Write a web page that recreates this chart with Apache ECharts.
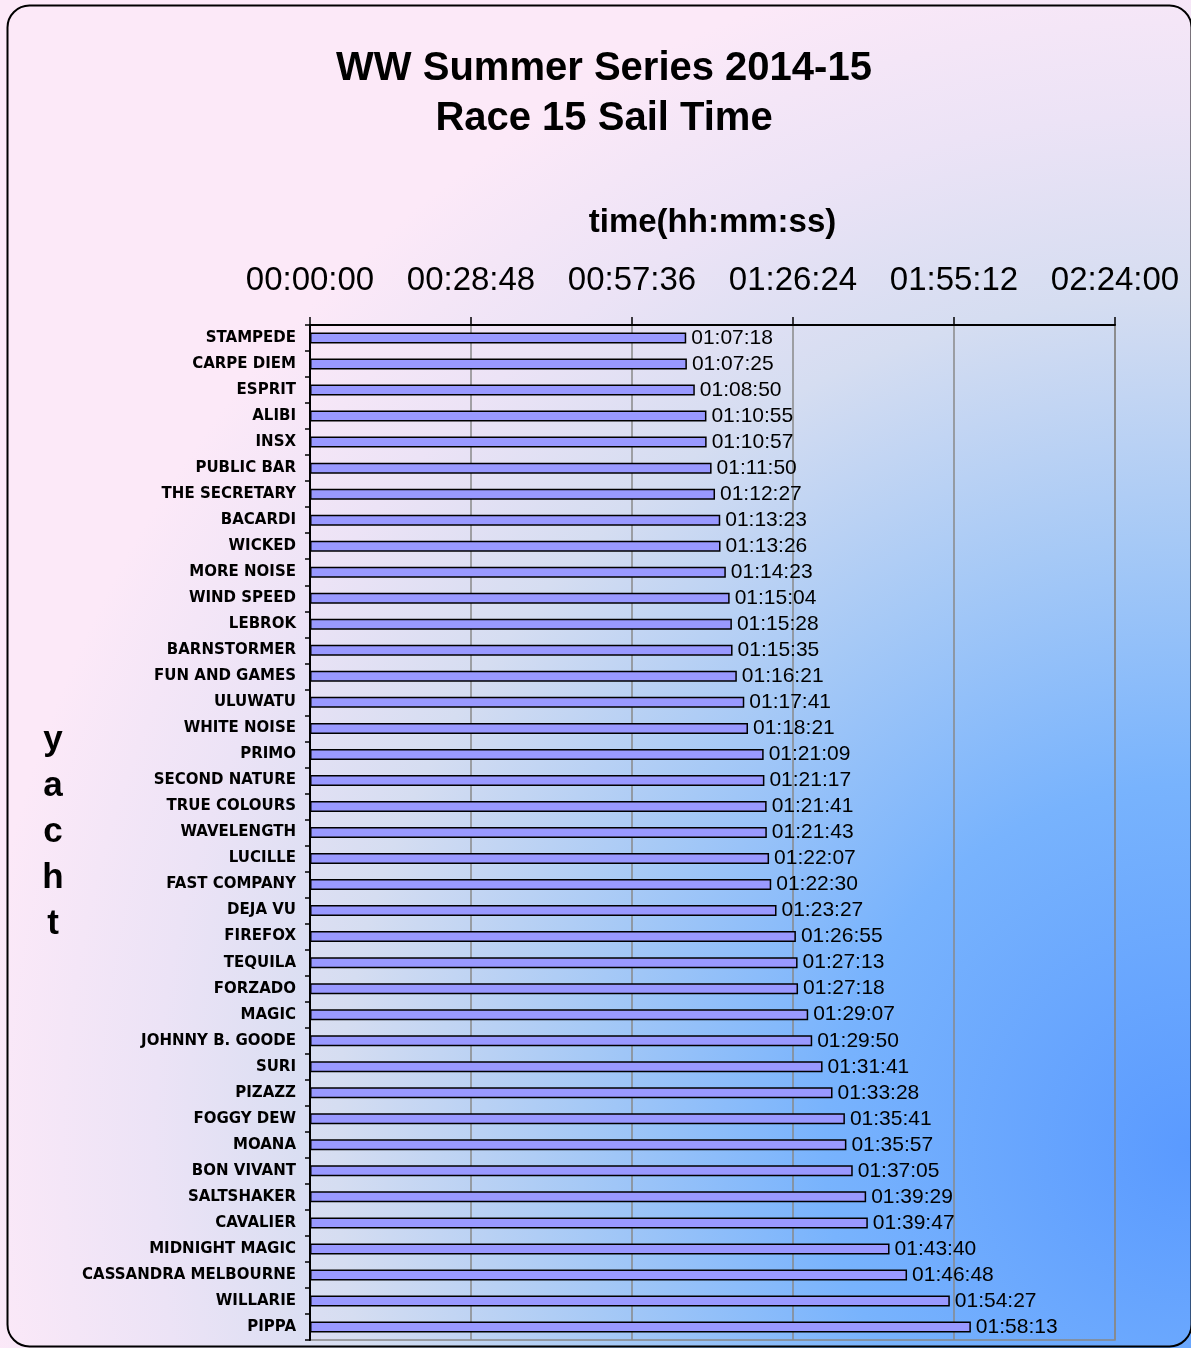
<!DOCTYPE html>
<html>
<head>
<meta charset="utf-8">
<title>Race 15 Sail Time</title>
<script src="https://cdn.jsdelivr.net/npm/echarts@6/dist/echarts.min.js"></script>
<style>
  html, body { margin: 0; padding: 0; background: #fff; }
  #chart { width: 1191px; height: 1348px; }
</style>
</head>
<body>
<div id="chart"></div>
<script>
var yachts = ['STAMPEDE', 'CARPE DIEM', 'ESPRIT', 'ALIBI', 'INSX', 'PUBLIC BAR', 'THE SECRETARY', 'BACARDI', 'WICKED', 'MORE NOISE',
  'WIND SPEED', 'LEBROK', 'BARNSTORMER', 'FUN AND GAMES', 'ULUWATU', 'WHITE NOISE', 'PRIMO', 'SECOND NATURE', 'TRUE COLOURS', 'WAVELENGTH',
  'LUCILLE', 'FAST COMPANY', 'DEJA VU', 'FIREFOX', 'TEQUILA', 'FORZADO', 'MAGIC', 'JOHNNY B. GOODE', 'SURI', 'PIZAZZ',
  'FOGGY DEW', 'MOANA', 'BON VIVANT', 'SALTSHAKER', 'CAVALIER', 'MIDNIGHT MAGIC', 'CASSANDRA MELBOURNE', 'WILLARIE', 'PIPPA'];

var sailTimes = ['01:07:18', '01:07:25', '01:08:50', '01:10:55', '01:10:57', '01:11:50', '01:12:27', '01:13:23', '01:13:26', '01:14:23',
  '01:15:04', '01:15:28', '01:15:35', '01:16:21', '01:17:41', '01:18:21', '01:21:09', '01:21:17', '01:21:41', '01:21:43',
  '01:22:07', '01:22:30', '01:23:27', '01:26:55', '01:27:13', '01:27:18', '01:29:07', '01:29:50', '01:31:41', '01:33:28',
  '01:35:41', '01:35:57', '01:37:05', '01:39:29', '01:39:47', '01:43:40', '01:46:48', '01:54:27', '01:58:13'];

// axis runs 0 .. 02:24:00 in steps of 00:28:48
var axisMax = '02:24:00';
var axisStep = '00:28:48';

function toSeconds(t) {
  var p = t.split(':');
  return (+p[0]) * 3600 + (+p[1]) * 60 + (+p[2]);
}

function pad(n) {
  return n < 10 ? '0' + n : '' + n;
}

function toClock(s) {
  s = Math.round(s);
  var h = Math.floor(s / 3600);
  var m = Math.floor((s % 3600) / 60);
  return pad(h) + ':' + pad(m) + ':' + pad(s % 60);
}

var values = sailTimes.map(toSeconds);

var chart = echarts.init(document.getElementById('chart'));

var option = {
  animation: false,
  backgroundColor: {
    type: 'radial', x: 1191, y: 1150, r: 1220, global: true,
    colorStops: [
      { offset: 0, color: '#5a9aff' },
      { offset: 0.3, color: '#78b3fd' },
      { offset: 0.5, color: '#a6c9f6' },
      { offset: 0.7, color: '#d5ddf1' },
      { offset: 0.85, color: '#ece3f6' },
      { offset: 1, color: '#fce9f8' }
    ]
  },
  graphic: [{
    type: 'rect',
    shape: { x: 7.5, y: 5.5, width: 1184, height: 1341, r: 22 },
    style: { fill: 'none', stroke: '#000', lineWidth: 2 },
    silent: true
  }],
  title: {
    text: 'WW Summer Series 2014-15\nRace 15 Sail Time',
    left: 599,
    top: 39,
    textAlign: 'center',
    textStyle: {
      fontFamily: 'Liberation Sans',
      fontWeight: 'bold',
      fontSize: 40,
      lineHeight: 50,
      color: '#000'
    }
  },
  grid: {
    left: 310, right: 76, top: 325, bottom: 8,
    show: true,
    borderColor: '#888',
    borderWidth: 1.5,
    backgroundColor: 'transparent'
  },
  xAxis: {
    type: 'value',
    position: 'top',
    min: 0,
    max: toSeconds(axisMax),
    interval: toSeconds(axisStep),
    name: 'time(hh:mm:ss)',
    nameLocation: 'middle',
    nameGap: 86,
    nameTextStyle: { fontFamily: 'Liberation Sans', fontWeight: 'bold', fontSize: 33, color: '#000' },
    axisLine: { show: true, lineStyle: { color: '#000', width: 2 } },
    axisTick: { show: true, length: 8, lineStyle: { color: '#000', width: 1.5 } },
    axisLabel: {
      margin: 28,
      fontFamily: 'Liberation Sans',
      fontSize: 33,
      color: '#000',
      formatter: function(v) { return toClock(v); }
    },
    splitLine: { show: true, lineStyle: { color: '#888', width: 1.5 } }
  },
  yAxis: {
    type: 'category',
    inverse: true,
    data: yachts,
    name: 'y\na\nc\nh\nt',
    nameLocation: 'middle',
    nameRotate: 0,
    nameGap: 257,
    nameTextStyle: {
      fontFamily: 'Liberation Sans', fontWeight: 'bold', fontSize: 35, lineHeight: 46,
      color: '#000', align: 'center', verticalAlign: 'middle'
    },
    axisLine: { show: true, lineStyle: { color: '#000', width: 2 } },
    axisTick: { show: true, length: 5, lineStyle: { color: '#000', width: 1.5 } },
    axisLabel: {
      margin: 14,
      fontFamily: 'DejaVu Sans',
      fontWeight: 'bold',
      fontSize: 15,
      color: '#000'
    },
    splitLine: { show: false }
  },
  series: [{
    type: 'bar',
    data: values,
    barWidth: 11,
    itemStyle: { color: '#9999ff', borderColor: '#000', borderWidth: 1.5 },
    label: {
      show: true,
      position: 'right',
      distance: 5,
      fontFamily: 'Liberation Sans',
      fontSize: 21,
      color: '#000',
      formatter: function(p) { return toClock(p.value); }
    }
  }]
};

chart.setOption(option);
</script>
</body>
</html>
